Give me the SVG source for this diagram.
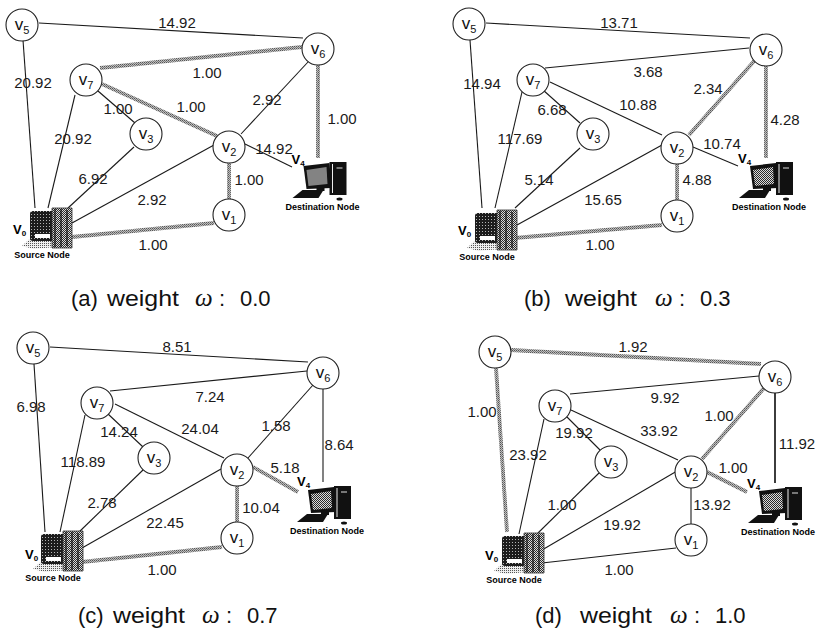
<svg xmlns="http://www.w3.org/2000/svg" xmlns:xlink="http://www.w3.org/1999/xlink" width="816" height="630" viewBox="0 0 816 630">
  <style>
    .e { fill: none; stroke: #1a1a1a; stroke-width: 1.1; }
    .e2 { fill: none; stroke: #1a1a1a; stroke-width: 1.7; }
    .hl { fill: none; stroke: url(#hlTex); stroke-width: 3.8; }
    .node circle { fill: #fff; stroke: #222; stroke-width: 1.1; }
    .node text { font-family: "Liberation Sans", Arial, sans-serif; font-size: 17px; fill: #111; text-anchor: middle; }
    .node .sub { font-size: 11px; }
    .w text { font-family: "Liberation Sans", Arial, sans-serif; font-size: 15px; fill: #1a1a1a; text-anchor: middle; }
    .pc .vl { font-family: "Liberation Sans", Arial, sans-serif; font-weight: bold; font-size: 13px; fill: #000; }
    .pc .vl .sub { font-size: 8px; }
    .pc .tag { font-family: "Liberation Sans", Arial, sans-serif; font-weight: bold; font-size: 9px; fill: #000; text-anchor: middle; }
    .cap { font-family: "Liberation Sans", Arial, sans-serif; font-size: 22px; fill: #111; }
    .cap .om { font-family: "Liberation Serif", "Times New Roman", serif; font-style: italic; font-size: 25px; }
  </style>
  <defs>
    <!-- dithered gray used for highlighted (selected path) edges -->
    <pattern id="hlTex" width="2" height="2" patternUnits="userSpaceOnUse">
      <rect width="2" height="2" fill="#bdbdbd"/>
      <rect width="1" height="1" fill="#555"/>
      <rect x="1" y="1" width="1" height="1" fill="#7a7a7a"/>
    </pattern>
    <pattern id="ptD" width="3" height="3" patternUnits="userSpaceOnUse">
      <rect width="3" height="3" fill="#1c1c1c"/>
      <rect x="1" y="1" width="1" height="1" fill="#b5b5b5"/>
    </pattern>
    <pattern id="ptM" width="2" height="2" patternUnits="userSpaceOnUse">
      <rect width="2" height="2" fill="#dcdcdc"/>
      <rect width="1" height="1" fill="#2a2a2a"/>
      <rect x="1" y="1" width="1" height="1" fill="#2a2a2a"/>
    </pattern>
    <pattern id="ptL" width="2" height="2" patternUnits="userSpaceOnUse">
      <rect width="2" height="2" fill="#eeeeee"/>
      <rect width="1" height="1" fill="#555"/>
    </pattern>
    <!-- source computer icon, origin at centre of its caption -->
    <g id="pc-src">
      <polygon points="-20,-9 -9,-19 13,-19 13,-8 -8,-6" fill="url(#ptL)"/>
      <rect x="-12" y="-44" width="25" height="30" rx="3" fill="url(#ptD)"/>
      <rect x="-7" y="-21" width="15" height="4" fill="#fff"/>
      <rect x="10" y="-47" width="20" height="40" fill="url(#ptM)"/>
      <path d="M13,-46 V-8 M19,-46 V-8 M25,-45 V-9" stroke="#111" stroke-width="1.2" fill="none"/>
      <path d="M10,-47 H30 V-7 H10 Z" stroke="#333" stroke-width="0.8" fill="none"/>
    </g>
    <!-- destination computer icon, origin at centre of its caption -->
    <g id="pc-dst">
      <polygon points="-30,-9 -20,-17 1,-17 -4,-9" fill="#111"/>
      <polygon points="-19,-41 7,-44 9,-19 -16,-18" fill="#111"/>
      <polygon points="-16,-37 4,-40 5,-23 -14,-21" fill="url(#ptM)"/>
      <rect x="-6" y="-19" width="8" height="3" fill="#111"/>
      <rect x="7" y="-45" width="17" height="33" fill="#111"/>
      <path d="M10,-43 V-14" stroke="#eee" stroke-width="1"/>
      <rect x="14" y="-40" width="6" height="2" fill="#777"/>
      <ellipse cx="17" cy="-8" rx="3" ry="1.5" fill="#111"/>
    </g>
  </defs>

  <rect width="816" height="630" fill="#fff"/>

  <!-- ===================== (a) omega = 0.0 ===================== -->
  <g id="panel-a">
    <g id="a-edges">
      <path class="e" d="M39,23 L303,38"/>
      <path class="e" d="M23,40 L35,208"/>
      <path class="e" d="M98,91 L135,123"/>
      <path class="e" d="M75,95 L48,208"/>
      <path class="e" d="M134,147 L68,208"/>
      <path class="e" d="M214,145 L72,223"/>
      <path class="e" d="M241,134 L308,62"/>
      <path class="e" d="M245,144 L292,167"/>
      <path class="hl" d="M100,68 L302,47"/>
      <path class="hl" d="M102,84 L217,136"/>
      <path class="hl" d="M229,163 L229,199"/>
      <path class="hl" d="M214,223 L72,237"/>
      <path class="hl" d="M318,65 L318,158"/>
    </g>
    <g id="a-weights" class="w">
      <text x="177" y="27.5">14.92</text>
      <text x="33" y="87.5">20.92</text>
      <text x="207" y="77.5">1.00</text>
      <text x="118" y="113.5">1.00</text>
      <text x="191" y="111.5">1.00</text>
      <text x="73" y="143.5">20.92</text>
      <text x="93" y="183.5">6.92</text>
      <text x="152" y="204.5">2.92</text>
      <text x="267" y="104.5">2.92</text>
      <text x="274" y="153.5">14.92</text>
      <text x="249" y="184.5">1.00</text>
      <text x="153" y="249.5">1.00</text>
      <text x="342" y="123.5">1.00</text>
    </g>
    <g id="a-v5" class="node"><circle cx="22" cy="25" r="16"/><text x="22" y="30">v<tspan class="sub" dy="3.5">5</tspan></text></g>
    <g id="a-v7" class="node"><circle cx="86" cy="80" r="16"/><text x="86" y="85">v<tspan class="sub" dy="3.5">7</tspan></text></g>
    <g id="a-v3" class="node"><circle cx="146" cy="134" r="16"/><text x="146" y="139">v<tspan class="sub" dy="3.5">3</tspan></text></g>
    <g id="a-v6" class="node"><circle cx="318" cy="49" r="16"/><text x="318" y="54">v<tspan class="sub" dy="3.5">6</tspan></text></g>
    <g id="a-v2" class="node"><circle cx="229" cy="147" r="16"/><text x="229" y="152">v<tspan class="sub" dy="3.5">2</tspan></text></g>
    <g id="a-v1" class="node"><circle cx="229" cy="215" r="16"/><text x="229" y="220">v<tspan class="sub" dy="3.5">1</tspan></text></g>
    <g id="a-v0" class="pc" transform="translate(42,255)">
      <use href="#pc-src"/>
      <text class="vl" x="-29" y="-21">V<tspan class="sub" dy="2">0</tspan></text>
      <text class="tag" x="0" y="3">Source Node</text>
    </g>
    <g id="a-v4" class="pc" transform="translate(322.5,207)">
      <use href="#pc-dst"/>
      <text class="vl" x="-31" y="-43">V<tspan class="sub" dy="1.5">4</tspan></text>
      <text class="tag" x="0" y="3">Destination Node</text>
    </g>
    <text class="cap" y="306"><tspan x="71">(a)</tspan><tspan x="107" textLength="72" lengthAdjust="spacingAndGlyphs">weight</tspan><tspan class="om" x="195">ω</tspan><tspan x="219">:</tspan><tspan x="240">0.0</tspan></text>
  </g>

  <!-- ===================== (b) omega = 0.3 ===================== -->
  <g id="panel-b">
    <g id="b-edges">
      <path class="e" d="M486,23 L750,38"/>
      <path class="e" d="M470,40 L482,208"/>
      <path class="e" d="M545,68 L749,48"/>
      <path class="e" d="M550,82 L662,135"/>
      <path class="e" d="M543,90 L580,123"/>
      <path class="e" d="M522,92 L495,208"/>
      <path class="e" d="M580,148 L515,208"/>
      <path class="e" d="M662,145 L517,225"/>
      <path class="e" d="M693,147 L738,166"/>
      <path class="hl" d="M689,135 L756,59"/>
      <path class="hl" d="M677,164 L677,200"/>
      <path class="hl" d="M662,225 L515,238"/>
      <path class="hl" d="M766,66 L766,158"/>
    </g>
    <g id="b-weights" class="w">
      <text x="619" y="27.5">13.71</text>
      <text x="482" y="88.5">14.94</text>
      <text x="648" y="76.5">3.68</text>
      <text x="638" y="109.5">10.88</text>
      <text x="552" y="114.5">6.68</text>
      <text x="520" y="143.5">117.69</text>
      <text x="539" y="184.5">5.14</text>
      <text x="603" y="204.5">15.65</text>
      <text x="708" y="93.5">2.34</text>
      <text x="722" y="148.5">10.74</text>
      <text x="697" y="184.5">4.88</text>
      <text x="600" y="249.5">1.00</text>
      <text x="785" y="124.5">4.28</text>
    </g>
    <g id="b-v5" class="node"><circle cx="469" cy="24" r="16"/><text x="469" y="29">v<tspan class="sub" dy="3.5">5</tspan></text></g>
    <g id="b-v7" class="node"><circle cx="533" cy="80" r="16"/><text x="533" y="85">v<tspan class="sub" dy="3.5">7</tspan></text></g>
    <g id="b-v3" class="node"><circle cx="593" cy="134" r="16"/><text x="593" y="139">v<tspan class="sub" dy="3.5">3</tspan></text></g>
    <g id="b-v6" class="node"><circle cx="766" cy="50" r="16"/><text x="766" y="55">v<tspan class="sub" dy="3.5">6</tspan></text></g>
    <g id="b-v2" class="node"><circle cx="677" cy="148" r="16"/><text x="677" y="153">v<tspan class="sub" dy="3.5">2</tspan></text></g>
    <g id="b-v1" class="node"><circle cx="677" cy="216" r="16"/><text x="677" y="221">v<tspan class="sub" dy="3.5">1</tspan></text></g>
    <g id="b-v0" class="pc" transform="translate(487,257)">
      <use href="#pc-src"/>
      <text class="vl" x="-29" y="-22">V<tspan class="sub" dy="2">0</tspan></text>
      <text class="tag" x="0" y="3">Source Node</text>
    </g>
    <g id="b-v4" class="pc" transform="translate(769,207)">
      <use href="#pc-dst"/>
      <text class="vl" x="-31" y="-44">V<tspan class="sub" dy="1.5">4</tspan></text>
      <text class="tag" x="0" y="3">Destination Node</text>
    </g>
    <text class="cap" y="306"><tspan x="524">(b)</tspan><tspan x="565" textLength="72" lengthAdjust="spacingAndGlyphs">weight</tspan><tspan class="om" x="655">ω</tspan><tspan x="679">:</tspan><tspan x="700">0.3</tspan></text>
  </g>

  <!-- ===================== (c) omega = 0.7 ===================== -->
  <g id="panel-c">
    <g id="c-edges">
      <path class="e" d="M50,347 L308,362"/>
      <path class="e" d="M34,364 L45,532"/>
      <path class="e" d="M110,391 L307,371"/>
      <path class="e" d="M115,404 L224,458"/>
      <path class="e" d="M107,413 L143,447"/>
      <path class="e" d="M85,415 L60,532"/>
      <path class="e" d="M143,470 L78,533"/>
      <path class="e" d="M221,469 L82,548"/>
      <path class="e" d="M248,458 L313,385"/>
      <path class="e" d="M323,389 L323,482"/>
      <path class="hl" d="M253,467 L298,492"/>
      <path class="hl" d="M237,486 L237,522"/>
      <path class="hl" d="M222,547 L82,562"/>
    </g>
    <g id="c-weights" class="w">
      <text x="177" y="351.5">8.51</text>
      <text x="31" y="411.5">6.98</text>
      <text x="210" y="401.5">7.24</text>
      <text x="200" y="433.5">24.04</text>
      <text x="119" y="436.5">14.24</text>
      <text x="83" y="466.5">118.89</text>
      <text x="102" y="507.5">2.78</text>
      <text x="165" y="527.5">22.45</text>
      <text x="276" y="430.5">1.58</text>
      <text x="339" y="449.5">8.64</text>
      <text x="285" y="472.5">5.18</text>
      <text x="261" y="512.5">10.04</text>
      <text x="162" y="574.5">1.00</text>
    </g>
    <g id="c-v5" class="node"><circle cx="33" cy="348" r="16"/><text x="33" y="353">v<tspan class="sub" dy="3.5">5</tspan></text></g>
    <g id="c-v7" class="node"><circle cx="97" cy="403" r="16"/><text x="97" y="408">v<tspan class="sub" dy="3.5">7</tspan></text></g>
    <g id="c-v3" class="node"><circle cx="154" cy="458" r="16"/><text x="154" y="463">v<tspan class="sub" dy="3.5">3</tspan></text></g>
    <g id="c-v6" class="node"><circle cx="323" cy="373" r="16"/><text x="323" y="378">v<tspan class="sub" dy="3.5">6</tspan></text></g>
    <g id="c-v2" class="node"><circle cx="237" cy="470" r="16"/><text x="237" y="475">v<tspan class="sub" dy="3.5">2</tspan></text></g>
    <g id="c-v1" class="node"><circle cx="237" cy="538" r="16"/><text x="237" y="543">v<tspan class="sub" dy="3.5">1</tspan></text></g>
    <g id="c-v0" class="pc" transform="translate(53,578)">
      <use href="#pc-src"/>
      <text class="vl" x="-28" y="-19">V<tspan class="sub" dy="2">0</tspan></text>
      <text class="tag" x="0" y="3">Source Node</text>
    </g>
    <g id="c-v4" class="pc" transform="translate(327,531)">
      <use href="#pc-dst"/>
      <text class="vl" x="-30" y="-45">V<tspan class="sub" dy="1.5">4</tspan></text>
      <text class="tag" x="0" y="3">Destination Node</text>
    </g>
    <text class="cap" y="623"><tspan x="78">(c)</tspan><tspan x="113" textLength="72" lengthAdjust="spacingAndGlyphs">weight</tspan><tspan class="om" x="202">ω</tspan><tspan x="226">:</tspan><tspan x="247">0.7</tspan></text>
  </g>

  <!-- ===================== (d) omega = 1.0 ===================== -->
  <g id="panel-d">
    <g id="d-edges">
      <path class="e" d="M570,394 L759,376"/>
      <path class="e" d="M571,410 L678,460"/>
      <path class="e" d="M567,417 L600,450"/>
      <path class="e" d="M544,419 L519,534"/>
      <path class="e" d="M599,473 L538,533"/>
      <path class="e" d="M677,471 L542,550"/>
      <path class="e" d="M676,548 L542,563"/>
      <path class="e" d="M691,488 L691,524"/>
      <path class="e2" d="M775,393 L775,483"/>
      <path class="hl" d="M511,350 L761,364"/>
      <path class="hl" d="M496,368 L507,532"/>
      <path class="hl" d="M702,459 L764,388"/>
      <path class="hl" d="M707,472 L747,492"/>
    </g>
    <g id="d-weights" class="w">
      <text x="633" y="351.5">1.92</text>
      <text x="482" y="416.5">1.00</text>
      <text x="665" y="402.5">9.92</text>
      <text x="659" y="435.5">33.92</text>
      <text x="574" y="437.5">19.92</text>
      <text x="528" y="459.5">23.92</text>
      <text x="562" y="509.5">1.00</text>
      <text x="622" y="529.5">19.92</text>
      <text x="719" y="420.5">1.00</text>
      <text x="733" y="472.5">1.00</text>
      <text x="712" y="509.5">13.92</text>
      <text x="619" y="574.5">1.00</text>
      <text x="797" y="448.5">11.92</text>
    </g>
    <g id="d-v5" class="node"><circle cx="495" cy="352" r="16"/><text x="495" y="357">v<tspan class="sub" dy="3.5">5</tspan></text></g>
    <g id="d-v7" class="node"><circle cx="555" cy="406" r="16"/><text x="555" y="411">v<tspan class="sub" dy="3.5">7</tspan></text></g>
    <g id="d-v3" class="node"><circle cx="611" cy="462" r="16"/><text x="611" y="467">v<tspan class="sub" dy="3.5">3</tspan></text></g>
    <g id="d-v6" class="node"><circle cx="775" cy="377" r="16"/><text x="775" y="382">v<tspan class="sub" dy="3.5">6</tspan></text></g>
    <g id="d-v2" class="node"><circle cx="691" cy="472" r="16"/><text x="691" y="477">v<tspan class="sub" dy="3.5">2</tspan></text></g>
    <g id="d-v1" class="node"><circle cx="691" cy="540" r="16"/><text x="691" y="545">v<tspan class="sub" dy="3.5">1</tspan></text></g>
    <g id="d-v0" class="pc" transform="translate(514,580)">
      <use href="#pc-src"/>
      <text class="vl" x="-29" y="-20">V<tspan class="sub" dy="2">0</tspan></text>
      <text class="tag" x="0" y="3">Source Node</text>
    </g>
    <g id="d-v4" class="pc" transform="translate(778,532)">
      <use href="#pc-dst"/>
      <text class="vl" x="-31" y="-44">V<tspan class="sub" dy="1.5">4</tspan></text>
      <text class="tag" x="0" y="3">Destination Node</text>
    </g>
    <text class="cap" y="623"><tspan x="535">(d)</tspan><tspan x="580" textLength="72" lengthAdjust="spacingAndGlyphs">weight</tspan><tspan class="om" x="670">ω</tspan><tspan x="694">:</tspan><tspan x="715">1.0</tspan></text>
  </g>
</svg>
